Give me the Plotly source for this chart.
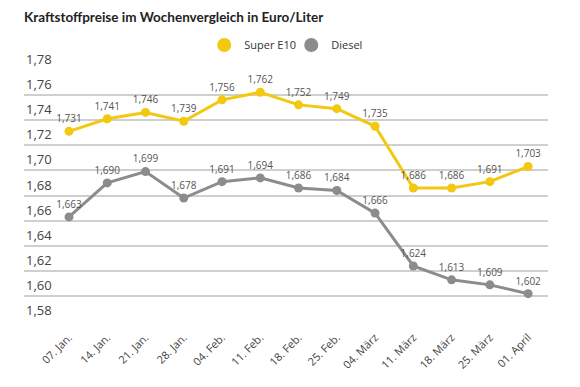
import plotly.graph_objects as go

weeks = ["07. Jan.", "14. Jan.", "21. Jan.", "28. Jan.", "04. Feb.", "11. Feb.",
         "18. Feb.", "25. Feb.", "04. März", "11. März", "18. März", "25. März", "01. April"]
super_e10 = [1.731, 1.741, 1.746, 1.739, 1.756, 1.762, 1.752, 1.749, 1.735, 1.686, 1.686, 1.691, 1.703]
diesel = [1.663, 1.690, 1.699, 1.678, 1.691, 1.694, 1.686, 1.684, 1.666, 1.624, 1.613, 1.609, 1.602]
y_ticks = [1.58, 1.60, 1.62, 1.64, 1.66, 1.68, 1.70, 1.72, 1.74, 1.76, 1.78]
title = "Kraftstoffpreise im Wochenvergleich in Euro/Liter"

YELLOW = "#F2C811"
GRAY = "#8C8C8C"
FONT = "Open Sans"


def fmt(v, d=3):
    return f"{v:.{d}f}".replace(".", ",")


fig = go.Figure()
for name, vals, col in [("Super E10", super_e10, YELLOW), ("Diesel", diesel, GRAY)]:
    fig.add_trace(go.Scatter(
        x=weeks, y=vals, mode="lines+markers+text", name=name,
        line=dict(color=col, width=3), marker=dict(color=col, size=9),
        text=[fmt(v) for v in vals], textposition="top center",
        textfont=dict(family=FONT, size=10, color="#555555"),
        showlegend=False, cliponaxis=False,
    ))
    fig.add_trace(go.Scatter(
        x=[None], y=[None], mode="markers", name=name,
        marker=dict(color=col, size=14), showlegend=True,
    ))

for v in y_ticks:
    fig.add_annotation(x=0, xref="paper", xanchor="left", y=v, yref="y", yanchor="bottom",
                       text=fmt(v, 2), showarrow=False,
                       font=dict(family=FONT, size=13, color="#444444"))

# the page body adds an 8px offset, so the layout is shifted by -8px to compensate
fig.update_layout(
    width=580, height=387,
    margin=dict(l=16, r=40, t=61, b=73),
    paper_bgcolor="white", plot_bgcolor="white",
    separators=",.",
    font=dict(family=FONT, color="#444444"),
    title=dict(text=f"<b>{title}</b>", x=0, xref="paper", xanchor="left",
               y=1 - 9 / 387, yref="container", yanchor="middle", pad=dict(l=0, t=0),
               font=dict(family="Lato", size=13.5, color="#222222")),
    legend=dict(orientation="h", x=0.51, xanchor="center", y=1.095, yanchor="middle",
                font=dict(family=FONT, size=11, color="#333333"),
                itemwidth=30, entrywidth=42, tracegroupgap=0),
    xaxis=dict(type="category", range=[-1.176, 12.52], showgrid=False, showline=False,
               zeroline=False, tickangle=-45, ticks="", automargin=False,
               ticklabelstandoff=6,
               tickfont=dict(family=FONT, size=11, color="#444444")),
    yaxis=dict(range=[1.5795, 1.7805], tickvals=y_ticks, showticklabels=False,
               showgrid=True, gridcolor="#CFCFCF", automargin=False,
               gridwidth=1.5, zeroline=False, showline=False, ticks=""),
)

fig.write_html("out.html")
